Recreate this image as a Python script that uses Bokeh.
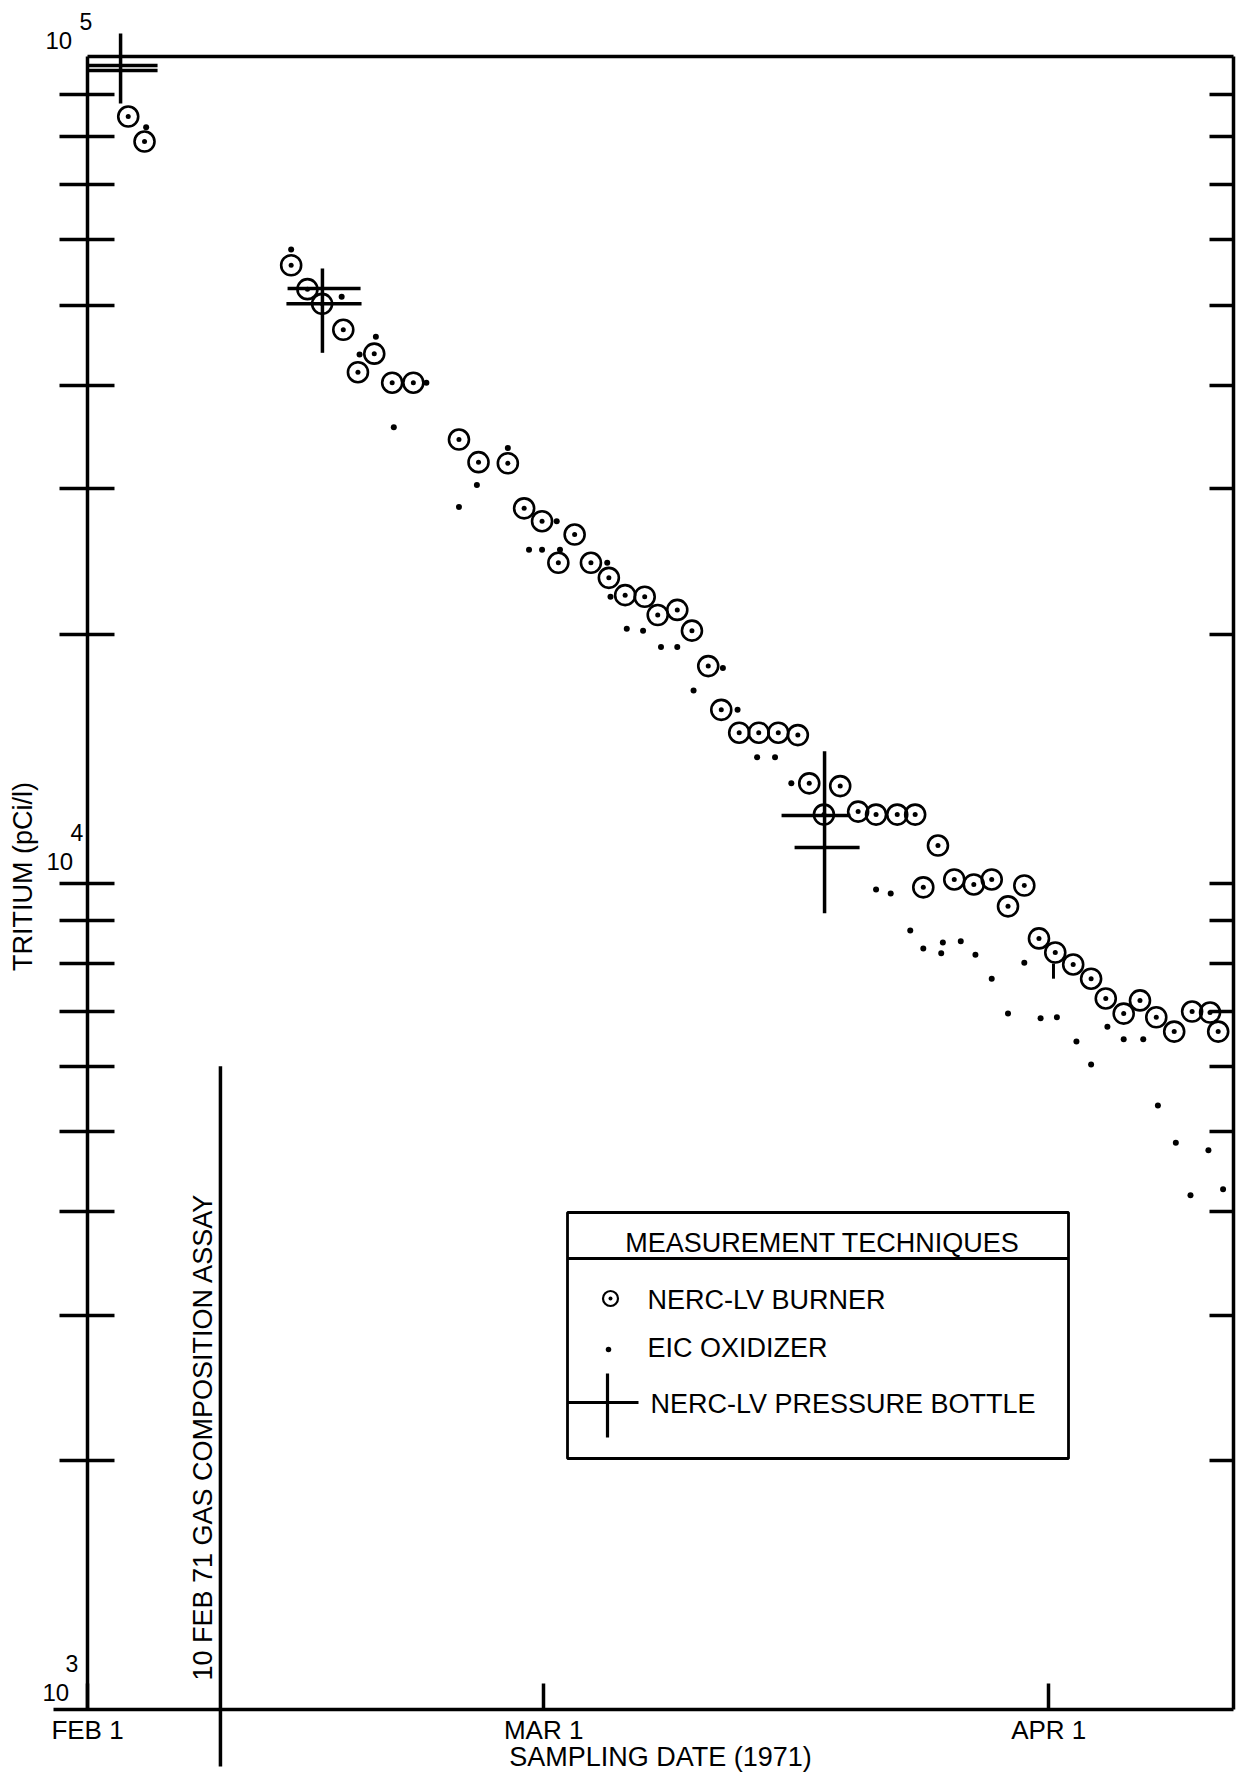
import math
from bokeh.plotting import figure
from bokeh.models import (ColumnDataSource, FixedTicker, Label, Arrow, Whisker,
                          TeeHead, BoxAnnotation, Range1d, LinearAxis, LogAxis)
from bokeh.embed import file_html
from bokeh.resources import INLINE

FONT = "Liberation Sans"

# ---------------- data (x = days after FEB 1 1971, y = tritium pCi/l) ----------------
burner_day = [2.5, 3.5, 12.5, 13.5, 14.4, 15.7, 17.6, 16.6, 18.7, 20.0,
              22.8, 24.0, 25.8, 26.8, 27.9, 29.9, 28.9, 30.9, 32.0, 33.0,
              34.2, 35.0, 36.2, 37.1, 38.1, 38.9, 40.0, 41.2, 42.4, 43.6,
              44.3, 46.2, 45.2, 47.3, 48.4, 49.7, 50.8, 52.2, 51.3, 53.2,
              54.4, 55.5, 56.5, 57.5, 58.4, 59.4, 60.5, 61.6, 62.5, 63.6,
              64.6, 65.6, 66.7, 67.8, 68.9, 69.4]
burner_val = [84600, 78900, 55900, 52300, 50200, 46700, 43700, 41500, 40300, 40300,
              34400, 32300, 32200, 28400, 27400, 26400, 24400, 24400, 23400, 22300,
              22200, 21100, 21400, 20200, 18300, 16200, 15200, 15200, 15200, 15100,
              13200, 13100, 12100, 12200, 12100, 12100, 12100, 11100, 9880, 10100,
              9960, 10100, 9370, 9930, 8570, 8240, 7970, 7660, 7250, 6950,
              7210, 6880, 6610, 6990, 6970, 6610]

eic_day = [3.6, 12.5, 15.6, 17.7, 16.7, 20.8, 18.8, 25.8, 23.9, 22.8,
           28.8, 27.1, 27.9, 29.0, 31.9, 32.1, 33.1, 34.1, 35.2, 36.2,
           39.0, 37.2, 39.9, 41.1, 42.2, 43.2, 48.4, 49.3, 50.5, 51.3,
           52.5, 52.4, 53.6, 54.5, 55.5, 57.5, 56.5, 58.5, 59.5, 60.7,
           61.6, 62.6, 63.6, 64.8, 65.7, 66.8, 67.7, 68.8, 69.7]
eic_val = [82100, 58400, 51200, 45800, 43600, 40300, 35600, 33600, 30300, 28500,
           27400, 25300, 25300, 25300, 24400, 22200, 20300, 20200, 19300, 19300,
           18200, 17100, 16200, 14200, 14200, 13200, 9820, 9710, 8760, 8330,
           8470, 8220, 8500, 8190, 7660, 8010, 6950, 6860, 6880, 6430,
           6030, 6700, 6470, 6470, 5380, 4850, 4190, 4750, 4260]

# pressure bottle samples: vertical range bars
pb_day = [2.03, 14.42, 45.24]
pb_lo = [87700, 43800, 9190]
pb_hi = [106600, 55400, 14430]
# pressure bottle values: horizontal bars over the sampling period
pbh_val = [97500, 96200, 52400, 50200, 12070, 11040]
pbh_start = [0.0, 0.0, 12.28, 12.21, 42.60, 43.40]
pbh_end = [4.30, 4.30, 16.76, 16.82, 46.83, 47.39]

# short range mark on one burner point
err_day = [59.29]
err_lo = [7660]
err_hi = [7990]

assay_day = 8.16
assay_top = 6000

x_ticks = [0, 28, 59]
x_tick_labels = ["FEB 1", "MAR 1", "APR 1"]
y_ticks = [2000, 3000, 4000, 5000, 6000, 7000, 8000, 9000, 10000,
           20000, 30000, 40000, 50000, 60000, 70000, 80000, 90000]

# ---------------- layout ----------------
W, H = 1242, 1775
X0, X1 = 0.0, 70.34          # plot box, in days
Y0, Y1 = 1e3, 1e5            # plot box, in pCi/l
FL, FR, FT, FB = 87, 1233, 56, 1709   # plot box edges in canvas pixels
LW = 3.5


def px2x(px):
    return X0 + (px - FL) * (X1 - X0) / (FR - FL)


def py2y(py):
    l0, l1 = math.log10(Y0), math.log10(Y1)
    return 10 ** (l1 - (py - FT) * (l1 - l0) / (FB - FT))


p = figure(width=W, height=H,
           x_range=Range1d(px2x(0), px2x(W)), y_range=Range1d(py2y(H), py2y(0)),
           y_axis_type="log", x_axis_location=None, y_axis_location=None,
           output_backend="svg", toolbar_location=None, title=None, min_border=0)
p.grid.visible = False
p.outline_line_color = None
p.background_fill_color = "white"
p.border_fill_color = "white"

hidden = {t: "" for t in y_ticks}

left = LogAxis(fixed_location=X0, bounds=(Y0, Y1), ticker=FixedTicker(ticks=y_ticks),
               major_label_overrides=hidden, major_label_text_font_size="1px",
               major_tick_in=27, major_tick_out=28, major_tick_line_width=LW,
               minor_tick_line_color=None, axis_line_width=LW)
p.add_layout(left, "left")

right = LogAxis(fixed_location=X1, bounds=(Y0, Y1), ticker=FixedTicker(ticks=y_ticks),
                major_label_overrides=hidden, major_label_text_font_size="1px",
                major_tick_in=24, major_tick_out=0, major_tick_line_width=LW,
                minor_tick_line_color=None, axis_line_width=LW)
p.add_layout(right, "right")

top = LinearAxis(fixed_location=Y1, bounds=(X0, X1), ticker=FixedTicker(ticks=[]),
                 major_tick_line_color=None, minor_tick_line_color=None,
                 major_label_text_font_size="1px", axis_line_width=LW)
p.add_layout(top, "above")

bottom = LinearAxis(fixed_location=Y0, bounds=(px2x(53), X1),
                    ticker=FixedTicker(ticks=x_ticks),
                    major_label_overrides=dict(zip(x_ticks, x_tick_labels)),
                    major_tick_in=26, major_tick_out=0, major_tick_line_width=LW,
                    minor_tick_line_color=None, axis_line_width=LW,
                    major_label_text_font=FONT, major_label_text_font_size="26px",
                    major_label_text_color="black", major_label_standoff=5)
p.add_layout(bottom, "below")

# assay marker line (runs below the axis)
p.add_layout(Arrow(x_start=assay_day, y_start=assay_top, x_end=assay_day,
                   y_end=py2y(1766), end=None, line_color="black", line_width=LW))

# data
p.scatter(burner_day, burner_val, marker="circle", size=20, fill_color=None,
          line_color="black", line_width=2.6)
p.scatter(burner_day, burner_val, marker="circle", size=5, fill_color="black",
          line_color=None)
p.scatter(eic_day, eic_val, marker="circle", size=6, fill_color="black", line_color=None)
p.segment(x0=err_day, y0=err_lo, x1=err_day, y1=err_hi, line_color="black", line_width=3)

nohead = dict(size=0, line_alpha=0)
src_v = ColumnDataSource(dict(base=pb_day, lower=pb_lo, upper=pb_hi))
p.add_layout(Whisker(source=src_v, base="base", lower="lower", upper="upper",
                     dimension="height", line_color="black", line_width=LW,
                     lower_head=TeeHead(**nohead), upper_head=TeeHead(**nohead)))
src_h = ColumnDataSource(dict(base=pbh_val, lower=pbh_start, upper=pbh_end))
p.add_layout(Whisker(source=src_h, base="base", lower="lower", upper="upper",
                     dimension="width", line_color="black", line_width=LW,
                     lower_head=TeeHead(**nohead), upper_head=TeeHead(**nohead)))


def lab(px, py, text, size, align="left", angle=0.0):
    # (px, py): left/centre x and vertical middle of the lettering, canvas pixels
    p.add_layout(Label(x=px2x(px), y=py2y(py), text=text, text_font=FONT,
                       text_font_size=size, text_color="black", text_align=align,
                       text_baseline="middle", angle=angle))


# y tick labels (10 with raised exponents)
lab(45, 40, "10", "24px")
lab(79, 21, "5", "23px")
lab(46, 861, "10", "24px")
lab(70, 832, "4", "23px")
lab(42, 1692, "10", "24px")
lab(65, 1663, "3", "23px")

# axis titles
lab(22, 876, "TRITIUM (pCi/l)", "27px", align="center", angle=math.pi / 2)
lab(660, 1756, "SAMPLING DATE (1971)", "27px", align="center")
lab(202, 1680, "10 FEB 71 GAS COMPOSITION ASSAY", "27px", angle=math.pi / 2)

# legend
box = BoxAnnotation(left=px2x(567), right=px2x(1068), top=py2y(1212), bottom=py2y(1458),
                    fill_color="white", fill_alpha=1.0, line_color="black",
                    line_alpha=1.0, line_width=2.8, level="underlay")
p.add_layout(box)
p.segment(x0=[px2x(567)], y0=[py2y(1258)], x1=[px2x(1068)], y1=[py2y(1258)],
          line_color="black", line_width=2.8)
lab(822, 1242, "MEASUREMENT TECHNIQUES", "27px", align="center")
p.scatter([px2x(610)], [py2y(1298)], marker="circle", size=15, fill_color=None,
          line_color="black", line_width=2.2)
p.scatter([px2x(610)], [py2y(1298)], marker="circle", size=4, fill_color="black",
          line_color=None)
lab(647, 1299, "NERC-LV  BURNER", "27px")
p.scatter([px2x(608)], [py2y(1349)], marker="circle", size=5.5, fill_color="black",
          line_color=None)
lab(647, 1347, "EIC OXIDIZER", "27px")
p.segment(x0=[px2x(607), px2x(567)], y0=[py2y(1373), py2y(1402)],
          x1=[px2x(607), px2x(638)], y1=[py2y(1437), py2y(1402)],
          line_color="black", line_width=3.2)
lab(650, 1403, "NERC-LV  PRESSURE BOTTLE", "27px")

open("out.html", "w").write(file_html(p, INLINE))
